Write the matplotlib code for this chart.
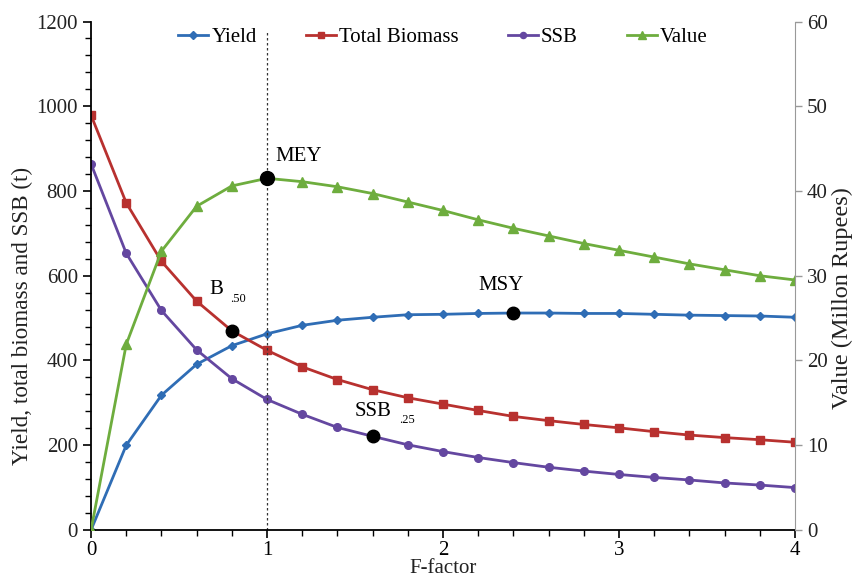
import matplotlib
matplotlib.use("Agg")
import matplotlib.pyplot as plt
import numpy as np
from matplotlib.ticker import MultipleLocator

plt.rcParams['font.family'] = ['Liberation Serif', 'DejaVu Serif']

f_factor = [0.0, 0.2, 0.4, 0.6, 0.8, 1.0, 1.2, 1.4, 1.6, 1.8, 2.0,
            2.2, 2.4, 2.6, 2.8, 3.0, 3.2, 3.4, 3.6, 3.8, 4.0]
yield_t = [0, 200, 318, 391, 435, 463, 483, 495, 502, 508, 509,
           511, 512, 512, 511, 511, 509, 507, 506, 505, 502]
total_biomass = [979, 772, 634, 540, 470, 424, 385, 355, 331, 312, 297,
                 282, 268, 258, 249, 241, 232, 224, 218, 213, 207]
ssb = [864, 653, 518, 425, 357, 308, 273, 242, 221, 201, 185,
       171, 159, 148, 139, 131, 124, 118, 111, 106, 100]
value = [0, 21.9, 32.9, 38.2, 40.6, 41.5, 41.1, 40.5, 39.7, 38.7, 37.7,
         36.6, 35.6, 34.7, 33.8, 33.0, 32.2, 31.4, 30.7, 30.0, 29.5]

c_yield = '#2F6DB5'
c_bio = '#B8312F'
c_ssb = '#6447A0'
c_val = '#6EAD3E'

fig = plt.figure(figsize=(8.54, 5.77), dpi=100)
ax = fig.add_axes([0.1066, 0.0815, 0.8244, 0.8812])
ax2 = ax.twinx()

l1, = ax.plot(f_factor, yield_t, color=c_yield, lw=2, marker='D', ms=4.5, label='Yield')
l2, = ax.plot(f_factor, total_biomass, color=c_bio, lw=2, marker='s', ms=5.5, label='Total Biomass')
l3, = ax.plot(f_factor, ssb, color=c_ssb, lw=2, marker='o', ms=5.5, label='SSB')
l4, = ax2.plot(f_factor, value, color=c_val, lw=2, marker='^', ms=6.5, label='Value')

# reference points
ax.axvline(1.0, ymin=0, ymax=1175/1200, color='#333333', lw=0.9, ls=(0, (2, 2)))
ax.plot(f_factor[4], total_biomass[4], 'o', color='black', ms=9, zorder=5)
ax.plot(f_factor[8], ssb[8], 'o', color='black', ms=9, zorder=5)
ax.plot(f_factor[12], yield_t[12], 'o', color='black', ms=9, zorder=5)
ax2.plot(f_factor[5], value[5], 'o', color='black', ms=10, zorder=5)

ax.text(1.05, 860, 'MEY', fontsize=15, ha='left', va='bottom')
ax.text(0.67, 545, 'B', fontsize=15, ha='left', va='bottom')
ax.text(0.79, 530, '.50', fontsize=9, ha='left', va='bottom')
ax.text(1.5, 258, 'SSB', fontsize=15, ha='left', va='bottom')
ax.text(1.75, 245, '.25', fontsize=9, ha='left', va='bottom')
ax.text(2.2, 555, 'MSY', fontsize=15, ha='left', va='bottom')

ax.set_xlim(0, 4)
ax.set_ylim(0, 1200)
ax2.set_ylim(0, 60)
ax.xaxis.set_major_locator(MultipleLocator(1))
ax.xaxis.set_minor_locator(MultipleLocator(0.2))
ax.yaxis.set_major_locator(MultipleLocator(200))
ax.yaxis.set_minor_locator(MultipleLocator(40))
ax2.yaxis.set_major_locator(MultipleLocator(10))

for a in (ax, ax2):
    a.spines['top'].set_visible(False)
ax.spines['right'].set_visible(False)
ax.spines['left'].set_color('black')
ax.spines['bottom'].set_color('black')
ax.spines['left'].set_linewidth(1.3)
ax.spines['bottom'].set_linewidth(1.3)
ax2.spines['left'].set_visible(False)
ax2.spines['bottom'].set_visible(False)
ax2.spines['right'].set_color('#999999')

ax.tick_params(axis='both', which='major', direction='out', length=6, width=1.2, labelsize=15, colors='black')
ax.tick_params(axis='both', which='minor', direction='out', length=4, width=1.0)
ax.tick_params(axis='y', labelcolor='#222222')
ax.tick_params(axis='x', pad=2)
ax2.tick_params(axis='y', which='major', direction='out', length=5, width=1, colors='#999999', labelcolor='#222222', labelsize=15)

ax.set_ylabel('Yield, total biomass and SSB (t)', fontsize=16.7, color='#222222')
ax.yaxis.set_label_coords(-0.082, 0.42)
ax2.set_ylabel('Value (Millon Rupees)', fontsize=17.5, color='#222222')
ax2.yaxis.set_label_coords(1.052, 0.456)
ax.set_xlabel('F-factor', fontsize=15, color='#222222', labelpad=-1)

ax.legend(handles=[l1, l2, l3, l4], loc='upper center', bbox_to_anchor=(0.5, 1.025),
          ncol=4, frameon=False, fontsize=15, handlelength=1.45, handletextpad=0.15,
          columnspacing=2.35, markerscale=0.8)

fig.savefig('out.png', dpi=100)
